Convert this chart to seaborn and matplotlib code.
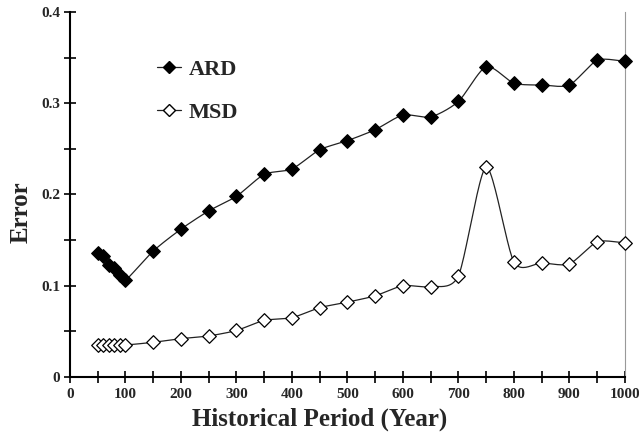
import numpy as np
import pandas as pd
import matplotlib
matplotlib.use("Agg")
import matplotlib.pyplot as plt
import seaborn as sns

years = [50, 60, 70, 80, 90, 100, 150, 200, 250, 300, 350, 400, 450, 500,
         550, 600, 650, 700, 750, 800, 850, 900, 950, 1000]
ard = [0.136, 0.133, 0.123, 0.119, 0.112, 0.106, 0.138, 0.162, 0.182, 0.198,
       0.222, 0.228, 0.249, 0.259, 0.271, 0.287, 0.285, 0.302, 0.340, 0.322,
       0.320, 0.320, 0.347, 0.346]
msd = [0.035, 0.035, 0.035, 0.035, 0.035, 0.035, 0.038, 0.042, 0.045, 0.051,
       0.062, 0.065, 0.076, 0.082, 0.089, 0.100, 0.099, 0.111, 0.230, 0.126,
       0.125, 0.124, 0.148, 0.147]
series_names = ["ARD", "MSD"]
x_ticks = list(range(0, 1001, 100))
y_ticks = [0, 0.1, 0.2, 0.3, 0.4]

sns.set_style("ticks")
plt.rcParams["font.family"] = ["Liberation Serif", "DejaVu Serif"]
plt.rcParams["font.weight"] = "bold"

fig = plt.figure(figsize=(6.39, 4.43), dpi=100)
ax = fig.add_axes([0.1095, 0.149, 0.8685, 0.824])


def smooth(xs, ys, n=24, k=0.75):
    # Catmull-Rom style smoothing through the data points (display scaled)
    xs = np.asarray(xs, float)
    ys = np.asarray(ys, float)
    sx, sy = 1 / 1000.0, 1 / 0.4 * (365 / 555)
    P = np.column_stack([xs * sx, ys * sy])
    P = np.vstack([P[0] * 2 - P[1], P, P[-1] * 2 - P[-2]])
    out = []
    for i in range(1, len(P) - 2):
        p0, p1, p2, p3 = P[i - 1], P[i], P[i + 1], P[i + 2]
        t = np.linspace(0, 1, n)[:, None]
        c1 = p1 + k * (p2 - p0) / 6.0
        c2 = p2 - k * (p3 - p1) / 6.0
        seg = ((1 - t) ** 3) * p1 + 3 * ((1 - t) ** 2) * t * c1 + 3 * (1 - t) * t ** 2 * c2 + t ** 3 * p2
        out.append(seg)
    out = np.vstack(out)
    return out[:, 0] / sx, out[:, 1] / sy


df = pd.DataFrame({"Year": years * 2, "Error": ard + msd,
                   "Series": [series_names[0]] * len(years) + [series_names[1]] * len(years)})

for name, vals, face in [("ARD", ard, "black"), ("MSD", msd, "white")]:
    cx, cy = smooth(years, vals)
    ax.plot(cx, cy, color="#222222", lw=0.9, zorder=2, clip_on=False)
    sub = df[df["Series"] == name]
    sns.scatterplot(data=sub, x="Year", y="Error", marker="D", s=48,
                    color=face, edgecolor="black", linewidth=0.9, ax=ax,
                    zorder=3, clip_on=False)
    ax.plot([], [], color="#222222", lw=0.9, marker="D", markersize=6.5,
            markerfacecolor=face, markeredgecolor="black", label=name)

ax.set_xlim(0, 1000)
ax.set_ylim(0, 0.4)
ax.set_xticks(x_ticks)
ax.set_xticklabels([str(v) for v in x_ticks], fontsize=11, fontweight="bold")
ax.set_xticks(list(range(50, 1000, 100)), minor=True)
ax.set_yticks(y_ticks)
ax.set_yticklabels(["0" if v == 0 else f"{v:.1f}" for v in y_ticks], fontsize=11, fontweight="bold")
ax.set_yticks([0.05, 0.15, 0.25, 0.35], minor=True)
ax.tick_params(which="both", direction="inout", length=8, width=1.2, color="black")
ax.tick_params(axis="x", pad=4)
ax.tick_params(axis="y", pad=3)

ax.spines["top"].set_visible(False)
ax.spines["right"].set_color("#999999")
ax.spines["right"].set_linewidth(0.8)
for s in ["left", "bottom"]:
    ax.spines[s].set_linewidth(1.5)
    ax.spines[s].set_color("black")

ax.set_xlabel("Historical Period (Year)", fontsize=18, fontweight="bold")
ax.set_ylabel("Error", fontsize=18, fontweight="bold")
ax.xaxis.set_label_coords(0.45, -0.083)
ax.yaxis.set_label_coords(-0.067, 0.452)

leg = ax.legend(loc="upper left", bbox_to_anchor=(0.12, 0.925), frameon=False,
                prop={"family": "Liberation Serif", "weight": "bold", "size": 16},
                labelspacing=1.0, handlelength=1.1, handletextpad=0.35)

fig.savefig("out.png", dpi=100)
